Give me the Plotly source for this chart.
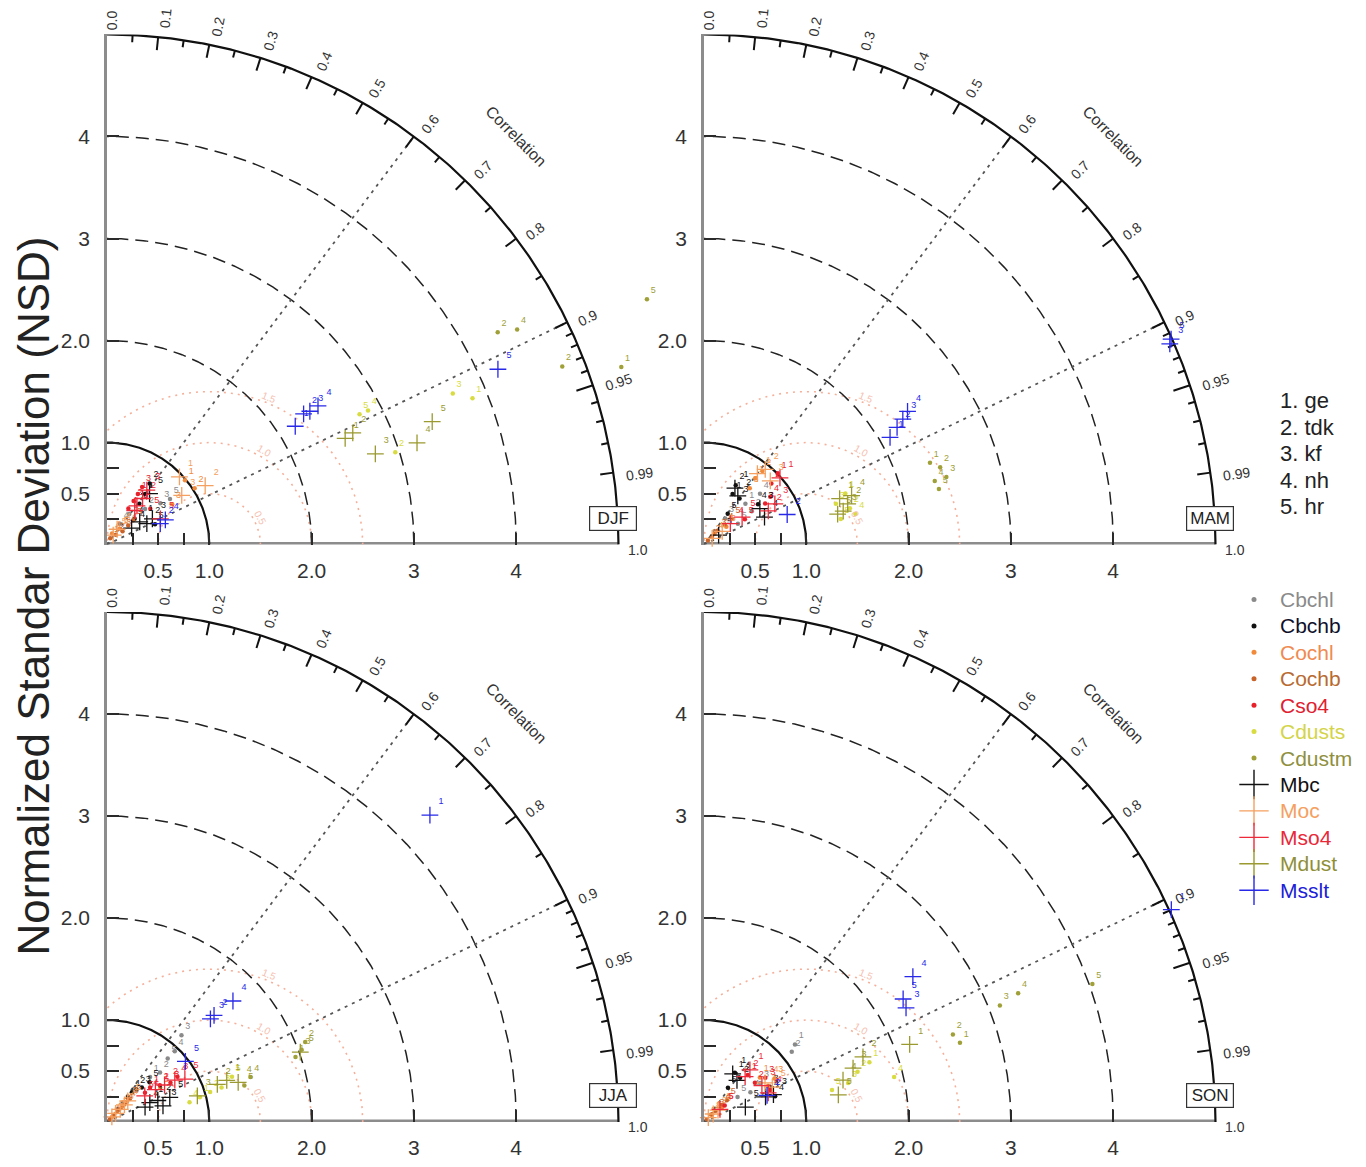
import numpy as np
import plotly.graph_objects as go

# page is 1366x1167; browser body has an 8px default margin
PAGE_W, PAGE_H = 1366, 1167
BODY_MARGIN = 8
W, H = PAGE_W - 2 * BODY_MARGIN, PAGE_H - 2 * BODY_MARGIN

SEASONS = ["DJF", "MAM", "JJA", "SON"]
SERIES = ["Cbchl", "Cbchb", "Cochl", "Cochb", "Cso4", "Cdusts", "Cdustm",
          "Mbc", "Moc", "Mso4", "Mdust", "Msslt"]
MODELS = ["1. ge", "2. tdk", "3. kf", "4. nh", "5. hr"]

COLORS = {"Cbchl": "#8a8a8a", "Cbchb": "#111111", "Cochl": "#f28a3c", "Cochb": "#c8642a",
          "Cso4": "#e8202a", "Cdusts": "#d8dc40", "Cdustm": "#a0a038", "Mbc": "#111111",
          "Moc": "#f5a060", "Mso4": "#ee2a3a", "Mdust": "#9a9a30", "Msslt": "#2828e8"}
TEXTCOLORS = {"Cbchl": "#8a8a8a", "Cbchb": "#10102a", "Cochl": "#f08a50", "Cochb": "#b86a30",
              "Cso4": "#e02030", "Cdusts": "#d4d448", "Cdustm": "#8f8f40", "Mbc": "#111111",
              "Moc": "#f5a060", "Mso4": "#e82838", "Mdust": "#8f8f38", "Msslt": "#2020d8"}

STD_TICKS = [0.25, 0.5, 0.75, 1, 2, 3, 4]
STD_TICKTEXT = ["", "0.5", "", "1.0", "2.0", "3", "4"]
STD_ARCS_DASHED = [2, 3, 4]
STD_ARCS_SOLID = [1, 5]
COR_MAJOR = [0.0, 0.1, 0.2, 0.3, 0.4, 0.5, 0.6, 0.7, 0.8, 0.9, 0.95, 0.99, 1.0]
COR_LABELS = ["0.0", "0.1", "0.2", "0.3", "0.4", "0.5", "0.6", "0.7", "0.8", "0.9", "0.95", "0.99", "1.0"]
COR_MINOR = [0.05, 0.15, 0.25, 0.35, 0.45, 0.55, 0.65, 0.75, 0.85,
             0.91, 0.92, 0.93, 0.94, 0.96, 0.97, 0.98]
COR_RAYS = [0.6, 0.9]
RMS_LEVELS = [0.5, 1.0, 1.5]

# ---------------- data: normalized std (NSD) and correlation ----------------
DJF_NSD = {"Cbchl": [.37, .51, .66, .24, .76], "Cbchb": [.62, .73, .51, .37, .51],
           "Cochl": [.99, 1.02, .75, .12, .20], "Cochb": [.07, .13, .20, .28, .35],
           "Cso4": [.58, .50, .66, .41, .55], "Cdusts": [2.78, 2.87, 3.69, 3.85, 2.96],
           "Cdustm": [4.35, 4.53, 4.78, 5.32, 5.80], "Mbc": [.39, .44, .51, .29, .65],
           "Moc": [.97, 1.12, .875, .18, .11], "Mso4": [.48, .57, .66, .43, .58],
           "Mdust": [2.55, 2.64, 2.77, 3.19, 3.40],
           "Msslt": [2.175, 2.31, 2.375, 2.47, 4.19, .62, .56]}
DJF_COR = {"Cbchl": [.59, .73, .79, .53, .81], "Cbchb": [.60, .57, .62, .73, .92],
           "Cochl": [.77, .84, .85, .41, .63], "Cochb": [.45, .67, .76, .74, .73],
           "Cso4": [.52, .52, .52, .51, .77], "Cdusts": [.888, .889, .916, .928, .952],
           "Cdustm": [.878, .885, .931, .945, .910], "Mbc": [.82, .885, .87, .83, .64],
           "Moc": [.73, .857, .835, .55, .55], "Mso4": [.61, .61, .59, .63, .90],
           "Mdust": [.913, .91, .947, .95, .935],
           "Msslt": [.846, .832, .835, .835, .912, .92, .93]}
DJF_LAB = {"Cdusts": [5, 4, 3, 1, 2], "Cdustm": [2, 4, 2, 1, 5], "Msslt": [1, 2, 3, 4, 5, 4, 2]}

MAM_NSD = {"Cbchl": [.57, .57, .33, .74, .39], "Cbchb": [.57, .66, .57, .66, .38],
           "Cochl": [.82, .92, .71, .15, .28], "Cochb": [.055, .11, .19, .28, .37],
           "Cso4": [1.0, .89, .72, .80, .47], "Cdusts": [1.47, 1.47, 1.35, 1.51, 1.36],
           "Cdustm": [2.35, 2.43, 2.46, 2.34, 2.36], "Mbc": [.63, .58, .65, .65, .17],
           "Moc": [.87, .95, .90, .10, .22], "Mso4": [.99, .71, .80, .33, .46],
           "Mdust": [1.40, 1.46, 1.40, 1.52, 1.34],
           "Msslt": [2.10, 2.21, 2.30, 2.38, 4.99, 4.96, .865]}
MAM_COR = {"Cbchl": [.71, .82, .63, .74, .85], "Cbchb": [.49, .47, .61, .80, .61],
           "Cochl": [.61, .62, .63, .70, .78], "Cochb": [.70, .70, .70, .72, .73],
           "Cso4": [.72, .74, .83, .81, .85], "Cdusts": [.94, .97, .955, .98, .983],
           "Cdustm": [.94, .95, .963, .964, .973], "Mbc": [.48, .57, .84, .91, .84],
           "Moc": [.60, .63, .72, .80, .81], "Mso4": [.75, .885, .866, .78, .81],
           "Mdust": [.947, .962, .972, .949, .975],
           "Msslt": [.866, .854, .845, .836, .915, .918, .94]}
MAM_LAB = {"Msslt": [1, 2, 3, 4, 5, 3, 2]}

JJA_NSD = {"Cbchl": [1.12, .86, .61, .71, .96], "Cbchb": [.38, .43, .48, .32, .57],
           "Cochl": [.07, .14, .21, .28, .62], "Cochb": [.04, .10, .17, .24, .32],
           "Cso4": [.54, .63, .73, .82, .47], "Cdusts": [.94, 1.05, 1.17, .83, 1.30],
           "Cdustm": [1.95, 2.09, 2.03, 1.47, 1.39], "Mbc": [.46, .54, .57, .40, .66],
           "Moc": [.07, .12, .18, .24, .29], "Mso4": [.57, .67, .78, .45, .87],
           "Mdust": [1.24, 1.14, .92, 1.34, 2.01], "Msslt": [1.71, 1.43, 1.48, .97, 4.36]}
JJA_COR = {"Cbchl": [.65, .69, .69, .73, .69], "Cbchb": [.64, .67, .71, .64, .73],
           "Cochl": [.70, .70, .70, .70, .84], "Cochb": [.70, .70, .70, .70, .70],
           "Cso4": [.78, .82, .85, .84, .79], "Cdusts": [.966, .96, .957, .972, .94],
           "Cdustm": [.945, .927, .937, .954, .966], "Mbc": [.91, .92, .96, .93, .93],
           "Moc": [.68, .70, .72, .71, .70], "Mso4": [.83, .84, .85, .82, .875],
           "Mdust": [.944, .946, .96, .957, .94], "Msslt": [.72, .707, .707, .79, .724]}
JJA_LAB = {"Cbchl": [3, 5, 1, 2, 4], "Msslt": [4, 3, 2, 5, 1]}

SON_NSD = {"Cbchl": [1.17, 1.10, .67, .54, .41], "Cbchb": [.57, .56, .73, .74, .41],
           "Cochl": [.70, .72, .81, .10, .23], "Cochb": [.04, .11, .16, .24, .31],
           "Cso4": [.63, .63, .74, .72, .26], "Cdusts": [1.72, 1.58, 1.46, 1.91, 1.29],
           "Cdustm": [4.03, 3.32, 3.11, 2.62, 2.58], "Mbc": [.55, .52, .73, .65, .43],
           "Moc": [.06, .12, .18, .71, .75], "Mso4": [.68, .60, .67, .69, .20],
           "Mdust": [2.15, 1.68, 1.55, 1.42, 1.34], "Msslt": [2.49, 2.29, 2.27, 5.02, .67]}
SON_COR = {"Cbchl": [.76, .78, .82, .84, .80], "Cbchb": [.53, .63, .88, .94, .57],
           "Cochl": [.78, .87, .85, .70, .77], "Cochb": [.72, .72, .72, .72, .72],
           "Cso4": [.68, .79, .81, .90, .78], "Cdusts": [.94, .95, .965, .973, .97],
           "Cdustm": [.942, .925, .93, .955, .943], "Mbc": [.51, .62, .93, .925, .94],
           "Moc": [.70, .75, .76, .84, .89], "Mso4": [.66, .67, .845, .91, .78],
           "Mdust": [.935, .925, .94, .957, .98], "Msslt": [.82, .85, .87, .91, .92]}
SON_LAB = {"Cdustm": [5, 4, 3, 1, 2], "Msslt": [4, 5, 3, 1, 2]}

NSD = {"DJF": DJF_NSD, "MAM": MAM_NSD, "JJA": JJA_NSD, "SON": SON_NSD}
COR = {"DJF": DJF_COR, "MAM": MAM_COR, "JJA": JJA_COR, "SON": SON_COR}
LAB = {"DJF": DJF_LAB, "MAM": MAM_LAB, "JJA": JJA_LAB, "SON": SON_LAB}

# ---------------- layout geometry (page pixels) ----------------
PANEL_ORIGIN = {"DJF": (107, 546), "MAM": (704, 546), "JJA": (107, 1125), "SON": (704, 1125)}
PPU = 102.3
RMAX = 5.0
XMAX = 5.45          # x range extends a bit past the outer arc so outlying points stay visible
FONT = "Liberation Sans, Arial, Helvetica, sans-serif"
AXIS_GRAY = "#8c8c8c"


def px2paper(px, py):
    return (px - BODY_MARGIN) / W, 1 - (py - BODY_MARGIN) / H


fig = go.Figure()
annotations = []
axis_ids = ["", "2", "3", "4"]
layout_axes = {}


def arc(r, n=240):
    t = np.linspace(0, np.pi / 2, n)
    return r * np.cos(t), r * np.sin(t)


def line_trace(x, y, xref, yref, **line):
    return go.Scatter(x=x, y=y, xaxis=xref, yaxis=yref, mode="lines", line=line,
                      hoverinfo="skip", showlegend=False)


for k, season in enumerate(SEASONS):
    a = axis_ids[k]
    xref, yref = "x" + a, "y" + a
    ox, oy = PANEL_ORIGIN[season]
    x0p, y0p = px2paper(ox, oy)
    x1p, _ = px2paper(ox + XMAX * PPU, oy)
    _, y1p = px2paper(ox, oy - RMAX * PPU)

    def d2p(x, y, x0p=x0p, y0p=y0p, x1p=x1p, y1p=y1p):
        return x0p + x / XMAX * (x1p - x0p), y0p + y / RMAX * (y1p - y0p)

    common = dict(tickvals=STD_TICKS, ticktext=STD_TICKTEXT,
                  ticks="inside", ticklen=12, tickwidth=2, tickcolor="#2a2a2a",
                  showgrid=False, zeroline=False,
                  tickfont=dict(family=FONT, size=21, color="#333333"),
                  fixedrange=True)
    layout_axes["xaxis" + a] = dict(domain=[x0p, x1p], range=[0, XMAX], anchor=yref,
                                    showline=False, ticklabelstandoff=11, **common)
    layout_axes["yaxis" + a] = dict(domain=[y0p, y1p], range=[0, RMAX], anchor=xref,
                                    showline=True, linecolor=AXIS_GRAY, linewidth=2.5,
                                    ticklabelstandoff=10, **common)

    # x axis line only up to the outer arc (half of it is clipped at the plot edge)
    fig.add_trace(line_trace([0, RMAX], [0, 0], xref, yref, color=AXIS_GRAY, width=5))

    # RMS difference circles centred on reference point (1, 0)
    t = np.linspace(0, np.pi, 300)
    for rl in RMS_LEVELS:
        cx, cy = 1 + rl * np.cos(t), rl * np.sin(t)
        cx = np.where(np.hypot(cx, cy) <= RMAX, cx, np.nan)
        fig.add_trace(line_trace(cx, cy, xref, yref, color="#f6b09a", width=1.6, dash="2px,5px"))
    for rl, ang in zip(RMS_LEVELS, [28, 60, 68]):
        th = np.radians(ang)
        px_, py_ = d2p(1 + (rl + 0.06) * np.cos(th), (rl + 0.06) * np.sin(th))
        annotations.append(dict(x=px_, y=py_, xref="paper", yref="paper",
                                text=f"{rl:.1f}", showarrow=False, xanchor="center", yanchor="middle",
                                textangle=90 - ang, font=dict(family=FONT, size=10, color="#f6c0b0")))

    # std arcs
    for r in STD_ARCS_DASHED:
        ax_, ay_ = arc(r)
        fig.add_trace(line_trace(ax_, ay_, xref, yref, color="#222222", width=1.5, dash="13px,7px"))
    for r in STD_ARCS_SOLID:
        ax_, ay_ = arc(r)
        fig.add_trace(line_trace(ax_, ay_, xref, yref, color="#111111", width=2.2))

    # correlation rays
    for c in COR_RAYS:
        th = np.arccos(c)
        fig.add_trace(line_trace([0, RMAX * np.cos(th)], [0, RMAX * np.sin(th)], xref, yref,
                                 color="#555555", width=1.8, dash="3px,5px"))

    # correlation ticks on outer arc
    tx, ty = [], []
    for c in COR_MAJOR[1:-1]:
        th = np.arccos(c)
        ln = 0.17 if c == 0.95 else 0.13
        tx += [RMAX * np.cos(th), (RMAX - ln) * np.cos(th), None]
        ty += [RMAX * np.sin(th), (RMAX - ln) * np.sin(th), None]
    for c in COR_MINOR:
        th = np.arccos(c)
        tx += [RMAX * np.cos(th), (RMAX - 0.07) * np.cos(th), None]
        ty += [RMAX * np.sin(th), (RMAX - 0.07) * np.sin(th), None]
    fig.add_trace(line_trace(tx, ty, xref, yref, color="#111111", width=2))

    # correlation labels (radial text just outside the arc, nudged clockwise)
    for c, lab in zip(COR_MAJOR, COR_LABELS):
        th = np.arccos(c)
        rr = RMAX + 0.03 + 0.055 * len(lab)
        if c < 0.05:
            rr = 5.14      # keep the topmost label inside the page
        tang = 0.05
        px_, py_ = d2p(rr * np.cos(th) + tang * np.sin(th), rr * np.sin(th) - tang * np.cos(th))
        annotations.append(dict(x=px_, y=py_, xref="paper", yref="paper",
                                text=lab, showarrow=False, textangle=-np.degrees(th),
                                xanchor="center", yanchor="middle",
                                font=dict(family=FONT, size=14, color="#333333")))
    px_, py_ = d2p(5.66 * np.cos(np.pi / 4), 5.66 * np.sin(np.pi / 4))
    annotations.append(dict(x=px_, y=py_, xref="paper", yref="paper", text="Correlation",
                            showarrow=False, textangle=45, xanchor="center", yanchor="middle",
                            font=dict(family=FONT, size=16, color="#333333")))
    # season box
    px_, py_ = d2p(4.95, 0.26)
    annotations.append(dict(x=px_, y=py_, xref="paper", yref="paper", text=season, showarrow=False,
                            xanchor="center", yanchor="middle", width=42, height=19,
                            font=dict(family=FONT, size=17, color="#222222"),
                            bordercolor="#333333", borderwidth=1.2, borderpad=2, bgcolor="white"))

    # data points
    for s in SERIES:
        nsd = np.array(NSD[season][s], dtype=float)
        cor = np.array(COR[season][s], dtype=float)
        labs = LAB[season].get(s, list(range(1, len(nsd) + 1)))
        x = nsd * cor
        y = nsd * np.sqrt(1 - cor ** 2)
        is_model = s.startswith("M")
        marker = (dict(symbol="cross-thin", size=12, line=dict(color=COLORS[s], width=1.3))
                  if is_model else dict(symbol="circle", size=4.5, color=COLORS[s]))
        fig.add_trace(go.Scatter(x=x, y=y, xaxis=xref, yaxis=yref, mode="markers+text",
                                 marker=marker, text=[str(l) for l in labs],
                                 textposition="top right",
                                 textfont=dict(family=FONT, size=9, color=COLORS[s]),
                                 cliponaxis=False, name=s, showlegend=False))

# ---------------- legend (overlay axis in page pixels) ----------------
layout_axes["xaxis5"] = dict(domain=[0, 1], range=[BODY_MARGIN, BODY_MARGIN + W],
                             visible=False, anchor="y5", fixedrange=True)
layout_axes["yaxis5"] = dict(domain=[0, 1], range=[BODY_MARGIN + H, BODY_MARGIN],
                             visible=False, anchor="x5", fixedrange=True)
LEG_X, LEG_Y0, LEG_DY = 1254, 601, 26.5
for i, s in enumerate(SERIES):
    yy = LEG_Y0 + i * LEG_DY
    is_model = s.startswith("M")
    marker = (dict(symbol="cross-thin", size=21, line=dict(color=COLORS[s], width=1.4))
              if is_model else dict(symbol="circle", size=5, color=COLORS[s]))
    fig.add_trace(go.Scatter(x=[LEG_X], y=[yy], xaxis="x5", yaxis="y5", mode="markers",
                             marker=marker, hoverinfo="skip", showlegend=False))
    px_, py_ = px2paper(LEG_X + 24, yy)
    annotations.append(dict(x=px_, y=py_, xref="paper", yref="paper",
                            text=s, showarrow=False, xanchor="left", yanchor="middle",
                            font=dict(family=FONT, size=21, color=TEXTCOLORS[s])))
for i, m in enumerate(MODELS):
    px_, py_ = px2paper(1278, 402 + i * 26.5)
    annotations.append(dict(x=px_, y=py_, xref="paper", yref="paper",
                            text=m, showarrow=False, xanchor="left", yanchor="middle",
                            font=dict(family=FONT, size=22, color="#222222")))

px_, py_ = px2paper(33, 598)
annotations.append(dict(x=px_, y=py_, xref="paper", yref="paper",
                        text="Normalized Standar Deviation (NSD)", showarrow=False,
                        xanchor="center", yanchor="middle",
                        textangle=-90, font=dict(family=FONT, size=44, color="#222222")))

fig.update_layout(width=W, height=H, margin=dict(l=0, r=0, t=0, b=0),
                  paper_bgcolor="white", plot_bgcolor="rgba(0,0,0,0)",
                  showlegend=False, annotations=annotations, **layout_axes)
fig.write_html("out.html")
